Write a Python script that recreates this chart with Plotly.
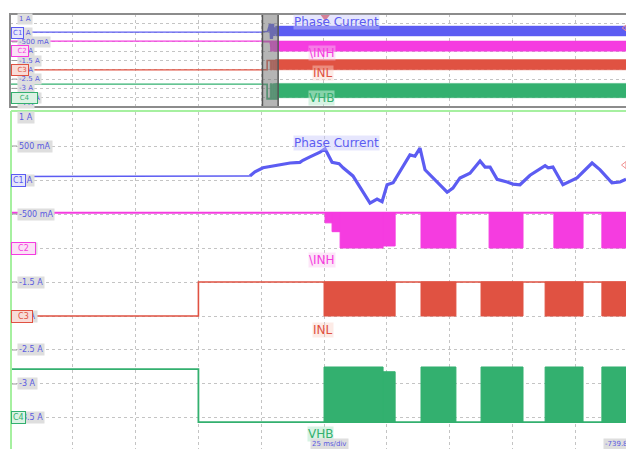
import plotly.graph_objects as go

# ---------------- data ----------------
# zoom window: time in ms relative to the zoom centre (25 ms/div)
pc_t = [-125, -29.5, -27.5, -24.3, -18.7, -13.5, -9.6, -8.4, -5.6, -1.6, 0.4,
        3.2, 6.0, 7.6, 11.5, 18.3, 21.1, 23.1, 25.1, 27.5, 34.2, 36.2, 38.2,
        40.2, 49.0, 51.3, 54.1, 58.1, 62.1, 64.1, 66.1, 68.9, 72.9, 75.2, 78.0,
        82.0, 88.0, 89.2, 91.1, 95.1, 100.7, 106.7, 109.9, 114.6, 117.8, 120.2]
pc_i = [0.05, 0.06, 0.12, 0.18, 0.22, 0.25, 0.26, 0.29, 0.34, 0.41, 0.46,
        0.26, 0.24, 0.18, 0.06, -0.34, -0.28, -0.32, -0.07, -0.04, 0.37, 0.35, 0.47,
        0.15, -0.18, -0.12, 0.03, 0.10, 0.28, 0.19, 0.19, 0.01, -0.03, -0.06, -0.07,
        0.07, 0.21, 0.18, 0.19, -0.07, 0.03, 0.25, 0.15, -0.04, -0.03, 0.01]

# \INH (C2): high level and pulses (start ms, end ms, low level)
inh_high = -0.48
inh_blocks = [(0.4, 3.2, -0.63), (3.2, 6.4, -0.76), (6.4, 23.5, -1.0), (23.5, 28.3, -0.97),
              (38.6, 52.5, -1.0), (65.7, 79.2, -1.0), (91.5, 103.1, -1.0), (110.6, 125, -1.0)]

# INL (C3)
inl_step_t = -50
inl_before, inl_high = -2.0, -1.5
inl_blocks = [(0.0, 28.3, -2.0), (38.6, 52.5, -2.0), (62.5, 79.2, -2.0),
              (88.0, 103.1, -2.0), (110.6, 125, -2.0)]

# VHB (C4)
vhb_step_t = -50
vhb_before, vhb_low = -2.78, -3.56
vhb_blocks = [(0.0, 23.5, -2.75), (23.5, 28.3, -2.82), (38.6, 52.5, -2.75), (62.5, 79.2, -2.75),
              (88.0, 103.1, -2.75), (110.6, 125, -2.75)]

# overview (1 s/div): zoom window position and envelope bands after it
zoom_center_s = -0.855
zoom_half_s = 0.125
ov_levels = {"pc": 0.03, "inh": -0.46, "inl": -2.0, "vhb": -2.77}
ov_bands = {"pc": (-0.18, 0.35), "inh": (-1.0, -0.45), "inl": (-2.0, -1.45), "vhb": (-3.5, -2.73)}

names = ["Phase Current", "\\INH", "INL", "VHB"]
C_BLUE, C_MAG, C_RED, C_GRN = "#5c5cf2", "#f53ce0", "#e05242", "#33b06f"

# ---------------- figure ----------------
W, H = 626, 449
LM = 10                  # left edge of plot area
fig = go.Figure()


def blocks_xy(blocks, base, scale=1.0, off=0.0):
    xs, ys = [], []
    for a, b, lvl in blocks:
        a2, b2 = off + a * scale, off + b * scale
        xs += [a2, a2, b2, b2, a2, None]
        ys += [base, lvl, lvl, base, base, None]
    return xs, ys


def add_channel_traces(xa, ya, scale, off, tmin, tmax):
    # INL
    fig.add_trace(go.Scatter(x=[tmin, off + inl_step_t * scale, off + inl_step_t * scale, tmax],
                             y=[inl_before, inl_before, inl_high, inl_high], mode="lines",
                             line=dict(color=C_RED, width=1.6), xaxis=xa, yaxis=ya, hoverinfo="skip"))
    bx, by = blocks_xy(inl_blocks, inl_high, scale, off)
    fig.add_trace(go.Scatter(x=bx, y=by, mode="lines", fill="toself", fillcolor=C_RED,
                             line=dict(color=C_RED, width=1), xaxis=xa, yaxis=ya, hoverinfo="skip"))
    # VHB
    fig.add_trace(go.Scatter(x=[tmin, off + vhb_step_t * scale, off + vhb_step_t * scale, tmax],
                             y=[vhb_before, vhb_before, vhb_low, vhb_low], mode="lines",
                             line=dict(color=C_GRN, width=1.8), xaxis=xa, yaxis=ya, hoverinfo="skip"))
    bx, by = blocks_xy(vhb_blocks, vhb_low, scale, off)
    fig.add_trace(go.Scatter(x=bx, y=by, mode="lines", fill="toself", fillcolor=C_GRN,
                             line=dict(color=C_GRN, width=1), xaxis=xa, yaxis=ya, hoverinfo="skip"))
    # INH
    fig.add_trace(go.Scatter(x=[tmin, tmax], y=[inh_high, inh_high], mode="lines",
                             line=dict(color=C_MAG, width=2), xaxis=xa, yaxis=ya, hoverinfo="skip"))
    bx, by = blocks_xy(inh_blocks, inh_high, scale, off)
    fig.add_trace(go.Scatter(x=bx, y=by, mode="lines", fill="toself", fillcolor=C_MAG,
                             line=dict(color=C_MAG, width=1), xaxis=xa, yaxis=ya, hoverinfo="skip"))
    # phase current
    fig.add_trace(go.Scatter(x=[off + t * scale for t in pc_t[:2]], y=pc_i[:2], mode="lines",
                             line=dict(color=C_BLUE, width=1.5), xaxis=xa, yaxis=ya, hoverinfo="skip"))
    fig.add_trace(go.Scatter(x=[off + t * scale for t in pc_t[1:]], y=pc_i[1:], mode="lines",
                             line=dict(color=C_BLUE, width=3.2), xaxis=xa, yaxis=ya, hoverinfo="skip"))


# main (zoom) panel
add_channel_traces("x", "y", 1.0, 0.0, -125, 125)

# overview panel: flat levels before window
ov_x0 = zoom_center_s - zoom_half_s
ov_x1 = zoom_center_s + zoom_half_s
for key, col in [("inl", C_RED), ("vhb", C_GRN), ("inh", C_MAG), ("pc", C_BLUE)]:
    fig.add_trace(go.Scatter(x=[-5.2, ov_x0], y=[ov_levels[key]] * 2, mode="lines",
                             line=dict(color=col, width=1.3), xaxis="x2", yaxis="y2", hoverinfo="skip"))
# overview: compressed copy of the zoom window
add_channel_traces("x2", "y2", 0.001, zoom_center_s, ov_x0, ov_x1)
# overview: envelopes after window
for key, col in [("inl", C_RED), ("vhb", C_GRN), ("inh", C_MAG), ("pc", C_BLUE)]:
    lo, hi = ov_bands[key]
    fig.add_trace(go.Scatter(x=[ov_x1 - 0.04, ov_x1 - 0.04, 5.2, 5.2, ov_x1 - 0.04],
                             y=[lo, hi, hi, lo, lo], mode="lines", fill="toself", fillcolor=col,
                             line=dict(color=col, width=0.5), xaxis="x2", yaxis="y2", hoverinfo="skip"))

# trigger markers
fig.add_trace(go.Scatter(x=[0.02], y=[0.86], mode="markers", cliponaxis=False,
                         marker=dict(symbol="triangle-down", size=9, color="#e04848"),
                         xaxis="x2", yaxis="y2", hoverinfo="skip"))
fig.add_trace(go.Scatter(x=[119.6], y=[0.22], mode="markers", cliponaxis=False,
                         marker=dict(symbol="triangle-left-open", size=6, color="#f09090"),
                         xaxis="x", yaxis="y", hoverinfo="skip"))
fig.add_trace(go.Scatter(x=[4.79], y=[0.25], mode="markers", cliponaxis=False,
                         marker=dict(symbol="triangle-left-open", size=5, color="#f09090"),
                         xaxis="x2", yaxis="y2", hoverinfo="skip"))


def py2paper(py):
    return 1 - py / H


def px2paper(px):
    return (px - LM) / (W - LM)


main_top, main_bot_a = 112, -3.956
ov_top, ov_bot = 14, 107

grid = dict(showgrid=True, gridcolor="#c4c4c4", griddash="dot", gridwidth=1,
            zeroline=False, showticklabels=False, ticks="", showline=False, fixedrange=True)

fig.update_layout(
    width=W, height=H,
    margin=dict(l=LM, r=0, t=0, b=0, pad=0, autoexpand=False),
    paper_bgcolor="white", plot_bgcolor="white", showlegend=False,
    font=dict(family="DejaVu Sans"),
    xaxis=dict(range=[-125, 120.2], tick0=0, dtick=25, domain=[0, 1], anchor="y", **grid),
    yaxis=dict(range=[main_bot_a, 1], tick0=0, dtick=0.5, domain=[0, py2paper(main_top)], anchor="x", **grid),
    xaxis2=dict(range=[-5, 4.81], tick0=0, dtick=1, domain=[0, 1], anchor="y2", **grid),
    yaxis2=dict(range=[-4, 1], tick0=0, dtick=0.5, domain=[py2paper(ov_bot), py2paper(ov_top)], anchor="x2", **grid),
)

shapes = []
# zoom window shading in overview
shapes.append(dict(type="rect", xref="x2", yref="y2 domain", x0=ov_x0, x1=ov_x1, y0=0, y1=1,
                   fillcolor="rgba(120,120,120,0.55)", line=dict(color="#555555", width=1.5), layer="above"))
# overview border
shapes.append(dict(type="rect", xref="paper", yref="paper", x0=0, x1=1.05,
                   y0=py2paper(ov_bot), y1=py2paper(ov_top), line=dict(color="#8c8c8c", width=2), layer="above"))
# main border (light green)
shapes.append(dict(type="line", xref="paper", yref="paper", x0=px2paper(11), x1=1.02,
                   y0=py2paper(111), y1=py2paper(111), line=dict(color="#a6f0a0", width=2), layer="above"))
shapes.append(dict(type="line", xref="paper", yref="paper", x0=px2paper(11), x1=px2paper(11),
                   y0=py2paper(111), y1=-0.02, line=dict(color="#a6f0a0", width=2), layer="above"))

annotations = []
LBL_COL = "#5a5ae0"


def axis_label(text, ya, yval, yshift=0, fsize=8):
    annotations.append(dict(text=text, xref="paper", yref=ya, x=0, y=yval, xanchor="left",
                            yanchor="middle", xshift=7, yshift=yshift, showarrow=False,
                            font=dict(size=fsize, color=LBL_COL), bgcolor="#dedede", borderpad=1))


def tag(text, ya, yval, col, fill, fsize=8):
    annotations.append(dict(text=text, xref="paper", yref=ya, x=0, y=yval, xanchor="left",
                            yanchor="middle", xshift=1, showarrow=False,
                            font=dict(size=fsize, color=col), bgcolor=fill, bordercolor=col,
                            borderwidth=1, borderpad=1))


def tickdash(ya, yval):
    shapes.append(dict(type="line", xref="paper", yref=ya, x0=px2paper(12), x1=px2paper(17),
                       y0=yval, y1=yval, line=dict(color="#9a9a9a", width=1), layer="above"))


# main panel labels
for txt, v, ys in [("1 A", 1.0, -5), ("500 mA", 0.5, 0), ("0 A", 0.0, 0), ("-500 mA", -0.5, 0),
                   ("-1 A", -1.0, 0), ("-1.5 A", -1.5, 0), ("-2 A", -2.0, 0), ("-2.5 A", -2.5, 0),
                   ("-3 A", -3.0, 0), ("-3.5 A", -3.5, 0), ("-4 A", -4.0, 6)]:
    if ys == 0:
        tickdash("y", v)
    axis_label(txt, "y", v, ys)
tag("C1", "y", 0.0, C_BLUE, "#e6e6fa")
tag("  C2  ", "y", -1.0, C_MAG, "#fbe0f6")
tag("  C3 ", "y", -2.0, C_RED, "#f8dcd8")
tag("C4", "y", -3.5, C_GRN, "#dcf2e4")

# overview labels
for txt, v, ys in [("1 A", 1.0, -5), ("0 A", 0.0, 0), ("-500 mA", -0.5, 0), ("-1 A", -1.0, 0),
                   ("-1.5 A", -1.5, 0), ("-2 A", -2.0, 0), ("-2.5 A", -2.5, 0), ("-3 A", -3.0, 0),
                   ("-3.5 A", -3.5, 0), ("-4 A", -4.0, 4)]:
    if ys == 0:
        tickdash("y2", v)
    axis_label(txt, "y2", v, ys, fsize=7)
tag("C1", "y2", 0.0, C_BLUE, "#e6e6fa", fsize=7)
tag("  C2", "y2", -1.0, C_MAG, "#fbe0f6", fsize=7)
tag("  C3", "y2", -2.0, C_RED, "#f8dcd8", fsize=7)
tag("   C4   ", "y2", -3.5, C_GRN, "#dcf2e4", fsize=7)

# channel name labels
name_pos_main = [(336, 143), (322, 260), (323, 330), (320, 434)]
name_pos_ov = [(336, 22), (322, 53), (323, 73), (321, 98)]
cols = [C_BLUE, C_MAG, C_RED, C_GRN]
bgs = ["rgba(200,200,250,0.45)", "rgba(250,200,240,0.45)", "rgba(250,210,200,0.45)", "rgba(190,235,210,0.6)"]
for (nm, col, bg, pm, po) in zip(names, cols, bgs, name_pos_main, name_pos_ov):
    for (px, py) in (pm, po):
        annotations.append(dict(text=nm, xref="paper", yref="paper", x=px2paper(px), y=py2paper(py),
                                xanchor="center", yanchor="middle", showarrow=False,
                                font=dict(size=12, color=col), bgcolor=bg, borderpad=0))

# time-base labels
annotations.append(dict(text="25 ms/div", xref="paper", yref="paper", x=px2paper(310), y=py2paper(444),
                        xanchor="left", yanchor="middle", showarrow=False,
                        font=dict(size=7, color=LBL_COL), bgcolor="#dedede", borderpad=1))
annotations.append(dict(text="-739.8 ms", xref="paper", yref="paper", x=px2paper(603), y=py2paper(444),
                        xanchor="left", yanchor="middle", showarrow=False,
                        font=dict(size=7, color=LBL_COL), bgcolor="#dedede", borderpad=1))

fig.update_layout(shapes=shapes, annotations=annotations)
fig.write_html("out.html", config={"displayModeBar": False},
               post_script="document.body.style.margin='0px';document.body.style.overflow='hidden';")
